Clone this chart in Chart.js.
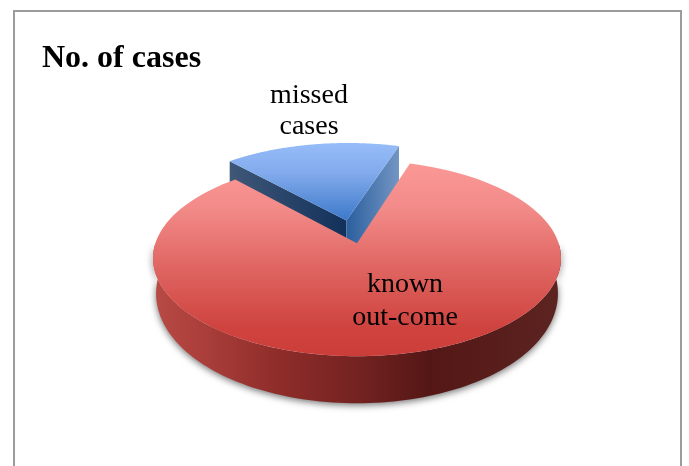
<!DOCTYPE html>
<html>
<head>
<meta charset="utf-8">
<title>No. of cases</title>
<script src="https://cdn.jsdelivr.net/npm/chart.js@4"></script>
<style>
  html, body { margin: 0; padding: 0; background: #fff; overflow: hidden; }
  #frame { position: absolute; left: 13px; top: 10px; width: 665px; height: 470px;
           border: 2px solid #9c9c9c; border-bottom: none; }
  #myPieChart { position: absolute; left: 42px; top: 0; }
</style>
</head>
<body>
<div id="frame"></div>
<canvas id="myPieChart" width="630" height="466"></canvas>
<script>
//---data
var chartTitle = 'No. of cases';
var sliceNames = ['known out-come', 'missed cases'];
var sliceLabels = [['known', 'out-come'], ['missed', 'cases']];
var sliceValues = [83.4, 16.6];

// 3D look: the flat disc is projected with some perspective
var projW = 201.6, projH = 95.7, projK = 0.153;

function project(cx, cy, u, v, down) {
  var w = 1 - projK * v;
  var shrink = down ? 0.985 : 1;
  var drop = down ? 33 + 14 * v : 0;
  return { x: cx + projW * u / w * shrink, y: cy + projH * v / w + drop };
}

function rimPoints(el, shiftU, shiftV, a0, a1, down) {
  var pts = [], n = 120;
  for (var i = 0; i <= n; i++) {
    var a = a0 + (a1 - a0) * i / n;
    pts.push(project(el.x, el.y, Math.cos(a) + shiftU, Math.sin(a) + shiftV, down));
  }
  return pts;
}

function fillPoly(ctx, pts, fill) {
  ctx.beginPath();
  pts.forEach(function (p, i) { i ? ctx.lineTo(p.x, p.y) : ctx.moveTo(p.x, p.y); });
  ctx.closePath();
  ctx.fillStyle = fill;
  ctx.fill();
}

function grad(ctx, x0, y0, x1, y1, stops) {
  var g = ctx.createLinearGradient(x0, y0, x1, y1);
  stops.forEach(function (s) { g.addColorStop(s[0], s[1]); });
  return g;
}

// Blue slice, pulled out of the pie
function drawMissed(ctx, el) {
  var mid = (el.startAngle + el.endAngle) / 2;
  var d = el.options.offset / el.outerRadius;
  var su = Math.cos(mid) * d, sv = Math.sin(mid) * d;
  var rim = rimPoints(el, su, sv, el.startAngle, el.endAngle, false);
  var apex = project(el.x, el.y, su, sv, false);
  var apexLow = { x: apex.x, y: apex.y + 40 };
  var left = rim[0], right = rim[rim.length - 1];

  fillPoly(ctx, [apex, left, { x: left.x, y: left.y + 40 }, apexLow],
    grad(ctx, left.x, 0, apex.x, 0, [[0, '#3f5878'], [1, '#12305a']]));
  fillPoly(ctx, [apex, right, { x: right.x, y: right.y + 40 }, apexLow],
    grad(ctx, apex.x, 0, right.x, 0, [[0, '#2b5f9e'], [1, '#7396c3']]));
  fillPoly(ctx, rim.concat([apex]),
    grad(ctx, 0, right.y - 4, 0, apex.y, [[0, '#97bdf9'], [0.4, '#82aaec'], [1, '#3c79c9']]));
}

// Red slice with its outer wall
function drawKnown(ctx, el) {
  var wallTop = rimPoints(el, 0, 0, 0, Math.PI, false);
  var wallLow = rimPoints(el, 0, 0, 0, Math.PI, true);
  var xl = wallTop[wallTop.length - 1].x, xr = wallTop[0].x;

  ctx.save();
  ctx.shadowColor = 'rgba(0, 0, 0, 0.55)';
  ctx.shadowBlur = 7;
  ctx.shadowOffsetY = 2;
  fillPoly(ctx, wallTop.concat(wallLow.slice().reverse()),
    grad(ctx, xl, 0, xr, 0, [[0, '#b84a46'], [0.08, '#b0423e'], [0.3, '#8f2d2a'], [0.5, '#742321'], [0.68, '#541715'], [1, '#5c2421']]));
  ctx.restore();

  var rim = rimPoints(el, 0, 0, el.startAngle, el.endAngle, false);
  var apex = project(el.x, el.y, 0, 0, false);
  fillPoly(ctx, rim.concat([apex]),
    grad(ctx, 0, 160, 0, 357, [[0, '#fb9a98'], [0.25, '#f28a88'], [0.6, '#dc5f5b'], [0.85, '#cf433f'], [1, '#cc3d39']]));
}

function drawLabel(ctx, lines, x, y, gap) {
  ctx.fillStyle = '#000';
  ctx.font = '28px "Liberation Serif"';
  ctx.textAlign = 'center';
  ctx.textBaseline = 'alphabetic';
  lines.forEach(function (t, i) { ctx.fillText(t, x, y + i * gap); });
}

var pie3d = {
  id: 'pie3d',
  beforeDatasetsDraw: function (chart) {
    var arcs = chart.getDatasetMeta(0).data;
    var ctx = chart.ctx;
    ctx.save();
    drawMissed(ctx, arcs[1]);
    drawKnown(ctx, arcs[0]);
    drawLabel(ctx, sliceLabels[0], arcs[0].x + 48, 292, 33);
    drawLabel(ctx, sliceLabels[1], arcs[0].x - 48, 103, 31);
    ctx.restore();
    return false;
  }
};

var ctx = document.getElementById('myPieChart');

var data = {
  labels: sliceNames,
  datasets: [{
    label: chartTitle,
    data: sliceValues,
    backgroundColor: ['#cc3d39', '#3c79c9'],
    borderWidth: 0,
    offset: [0, 37]
  }]
};

var options = {
  responsive: false,
  animation: false,
  rotation: 17.5,
  layout: { padding: { bottom: 58 } },
  plugins: {
    legend: { display: false },
    tooltip: { enabled: false },
    title: {
      display: true,
      text: chartTitle,
      align: 'start',
      color: '#000',
      font: { family: '"Liberation Serif"', size: 32, weight: 'bold' },
      padding: { top: 40, bottom: 0 }
    }
  }
};

var myPieChart = new Chart(ctx, {
  type: 'pie',
  data: data,
  options: options,
  plugins: [pie3d]
});
</script>
</body>
</html>
